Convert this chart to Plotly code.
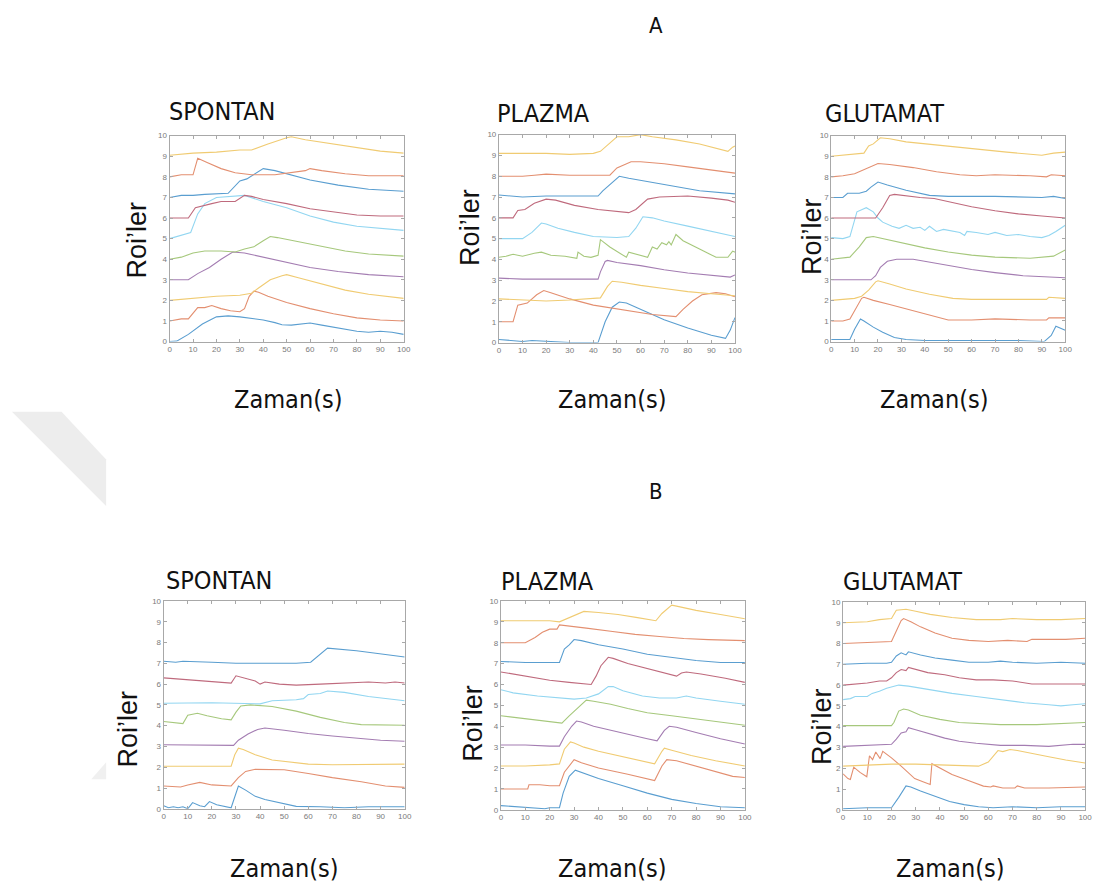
import plotly.graph_objects as go

W, H = 1103, 895

# ---------------- DATA (time in s, ROI trace values) ----------------
# Panel A - SPONTAN
A_SPONTAN_T = [
    [0,3,8,14,20,25,30,35,40,45,48,52,56,60,65,72,80,85,90,95,100],
    [0,5,8,10,12,15,18,22,26,30,32,34,36,38,42,50,60,70,80,90,100],
    [0,10,20,30,35,38,43,48,50,55,65,75,85,100],
    [0,8,12,17,22,27,32,40,50,60,72,85,100],
    [0,5,10,15,22,28,32,36,40,43,46,55,65,75,85,100],
    [0,6,9,12,15,20,25,32,40,50,60,70,80,100],
    [0,8,11,14,18,22,28,32,35,40,50,60,70,80,90,100],
    [0,5,10,15,25,30,33,36,40,45,52,60,72,85,100],
    [0,5,10,12,16,22,28,35,45,52,58,60,65,75,85,100],
    [0,10,20,30,35,42,50,52,58,70,80,90,100],
]
A_SPONTAN_V = [
    [0.0,0.02,0.35,0.85,1.2,1.25,1.2,1.12,1.05,0.92,0.82,0.8,0.85,0.9,0.8,0.65,0.5,0.45,0.5,0.45,0.35],
    [1.0,1.1,1.1,1.4,1.65,1.65,1.75,1.6,1.5,1.45,1.6,2.2,2.45,2.4,2.2,1.9,1.6,1.35,1.15,1.05,1.0],
    [2.0,2.1,2.2,2.25,2.35,2.6,3.0,3.2,3.25,3.1,2.8,2.5,2.3,2.1],
    [3.0,3.0,3.3,3.6,4.0,4.35,4.3,4.1,3.85,3.6,3.4,3.25,3.15],
    [4.0,4.1,4.3,4.4,4.4,4.35,4.5,4.6,4.9,5.1,5.05,4.85,4.6,4.4,4.25,4.15],
    [5.0,5.2,5.3,6.2,6.7,7.0,7.05,7.1,6.8,6.5,6.1,5.8,5.6,5.4],
    [6.0,6.0,6.5,6.6,6.7,6.8,6.8,7.1,7.05,6.9,6.7,6.45,6.3,6.15,6.1,6.1],
    [7.0,7.1,7.1,7.15,7.2,7.8,7.9,8.1,8.4,8.3,8.1,7.85,7.6,7.4,7.3],
    [8.0,8.1,8.1,8.9,8.7,8.4,8.2,8.1,8.1,8.2,8.3,8.4,8.3,8.15,8.05,8.05],
    [9.05,9.15,9.2,9.3,9.3,9.6,9.9,9.95,9.8,9.6,9.4,9.25,9.15],
]

# Panel A - PLAZMA
A_PLAZMA_T = [
    [0,5,10,14,20,30,42,43,45,48,51,54,57,62,70,80,90,96,98,100],
    [0,6,8,12,16,19,22,30,40,55,65,75,78,82,86,92,96,100],
    [0,10,20,30,40,43,46,48,52,60,70,80,90,100],
    [0,10,20,30,42,43,45,46,50,60,70,80,90,98,100],
    [0,3,6,10,15,18,22,28,33,33.5,36,39,42,43,47,51,54,55,58,63,65,67,69,71,72,73,75,78,85,92,97,99,100],
    [0,10,14,18,20,25,32,40,50,55,58,61,65,70,80,90,100],
    [0,6,8,11,15,20,24,32,42,50,55,58,63,68,80,90,97,100],
    [0,5,10,20,30,42,44,46,50,51,55,65,75,85,100],
    [0,10,15,20,30,40,47,50,53,56,60,70,80,90,100],
    [0,10,20,30,40,43,47,50,55,58,60,65,75,85,92,97,99,100],
]
A_PLAZMA_V = [
    [0.15,0.1,0.05,0.1,0.05,0.0,0.0,0.3,1.0,1.7,1.95,1.9,1.75,1.5,1.1,0.7,0.35,0.2,0.6,1.2],
    [1.0,1.0,1.8,1.9,2.3,2.5,2.4,2.1,1.8,1.55,1.35,1.25,1.6,2.0,2.3,2.4,2.35,2.2],
    [2.1,2.05,2.0,2.05,2.1,2.15,2.7,2.95,2.9,2.75,2.6,2.45,2.35,2.25],
    [3.1,3.05,3.05,3.05,3.05,3.4,3.9,3.95,3.85,3.7,3.5,3.35,3.25,3.15,3.25],
    [4.1,4.15,4.25,4.15,4.3,4.35,4.2,4.15,4.05,4.35,4.15,4.1,4.2,4.95,4.6,4.3,4.1,4.35,4.25,4.1,4.6,4.5,4.8,4.7,4.85,4.7,5.2,4.9,4.5,4.1,4.1,4.4,4.35],
    [5.0,5.0,5.3,5.75,5.7,5.5,5.3,5.1,5.05,5.1,5.5,6.05,6.0,5.85,5.6,5.35,5.1],
    [6.0,6.0,6.35,6.4,6.7,6.9,6.85,6.6,6.4,6.3,6.25,6.4,6.9,7.0,7.05,6.95,6.85,6.75],
    [7.1,7.05,7.0,7.05,7.05,7.05,7.3,7.5,7.9,8.0,7.9,7.7,7.5,7.3,7.15],
    [8.0,8.0,8.05,8.1,8.05,8.05,8.05,8.4,8.55,8.7,8.7,8.6,8.45,8.3,8.15],
    [9.1,9.1,9.1,9.05,9.1,9.2,9.6,9.9,9.9,9.95,10.0,9.9,9.75,9.55,9.35,9.2,9.4,9.45],
]

# Panel A - GLUTAMAT
A_GLUTAMAT_T = [
    [0,5,8,10,12.5,14,18,22,27,32,40,60,80,91,94,96,98,100],
    [0,5,8,10,13,14,18,25,35,45,50,60,70,85,92,93,100],
    [0,5,10,13,16,19,20,25,32,42,52,60,80,92,93,100],
    [0,10,17,19,21,24,28,35,40,50,60,70,82,100],
    [0,5,8,12,15,18,22,30,40,50,60,70,85,95,100],
    [0,5,8,9,11,15,18,20,22,26,29,32,35,38,40,42,45,48,51,55,57,58,62,67,70,75,80,85,90,93,96,100],
    [0,10,19,22,25,27,33,38,44,50,60,70,80,90,100],
    [0,5,7,12,15,17,20,24,32,42,50,70,90,95,100],
    [0,5,10,15,20,25,35,45,55,62,70,85,92,94,100],
    [0,8,14,16,18,21,25,32,45,60,75,90,95,100],
]
A_GLUTAMAT_V = [
    [0.1,0.1,0.1,0.6,1.1,1.0,0.7,0.45,0.2,0.1,0.05,0.05,0.05,0.0,0.3,0.75,0.65,0.55],
    [1.0,1.0,1.1,1.5,2.1,2.15,2.0,1.8,1.5,1.2,1.05,1.05,1.1,1.05,1.05,1.15,1.15],
    [2.0,2.05,2.1,2.2,2.5,2.9,2.95,2.8,2.55,2.3,2.1,2.05,2.05,2.05,2.15,2.1],
    [3.0,3.0,3.0,3.2,3.6,3.9,4.0,4.0,3.9,3.7,3.5,3.35,3.2,3.1],
    [4.0,4.05,4.1,4.6,5.05,5.1,5.0,4.8,4.55,4.35,4.2,4.1,4.05,4.15,4.45],
    [5.05,5.0,5.1,5.5,6.3,6.5,6.3,6.0,5.8,5.6,5.5,5.65,5.5,5.55,5.4,5.6,5.35,5.45,5.4,5.3,5.15,5.35,5.3,5.2,5.3,5.15,5.2,5.1,5.05,5.15,5.35,5.65],
    [6.0,6.0,6.0,6.5,7.1,7.15,7.05,7.0,6.95,6.8,6.55,6.35,6.2,6.1,6.0],
    [7.0,7.0,7.2,7.2,7.3,7.5,7.75,7.6,7.35,7.1,7.05,7.05,7.0,7.05,6.95],
    [8.0,8.05,8.15,8.4,8.65,8.6,8.45,8.25,8.1,8.05,8.1,8.05,8.0,8.1,8.05],
    [9.0,9.1,9.15,9.5,9.6,9.9,9.85,9.7,9.55,9.35,9.2,9.05,9.15,9.2],
]

# Panel B - SPONTAN (8 ROIs)
B_SPONTAN_T = [
    [0,2,4,6,8,10,12,15,17,19,22,28,29,31,34,38,42,46,50,55,65,75,85,100],
    [0,7,10,15,20,28,31,34,38,45,50,60,70,82,92,100],
    [0,10,20,28,29.5,31,33,38,45,55,60,70,80,90,100],
    [0,10,20,29,31,35,39,42,50,60,70,80,90,100],
    [0,5,8,10,14,18,24,28,30,32,36,45,55,65,75,82,90,100],
    [0,20,40,45,55,58,60,65,68,75,85,95,100],
    [0,10,20,28,30,33,38,40,42,48,55,65,75,85,92,96,100],
    [0,5,8,15,20,30,40,50,55,61,62.5,66,68,80,90,100],
]
B_SPONTAN_V = [
    [0.15,0.05,0.1,0.05,0.1,0.0,0.3,0.15,0.1,0.35,0.2,0.05,0.4,1.1,0.9,0.6,0.45,0.35,0.24,0.12,0.1,0.05,0.1,0.1],
    [1.1,1.05,1.15,1.27,1.15,1.1,1.5,1.8,1.9,1.88,1.88,1.7,1.5,1.3,1.1,1.03],
    [2.05,2.05,2.05,2.05,2.6,2.92,2.85,2.6,2.35,2.22,2.15,2.12,2.12,2.15,2.15],
    [3.08,3.08,3.05,3.05,3.3,3.6,3.82,3.89,3.78,3.62,3.5,3.4,3.3,3.25],
    [4.2,4.15,4.1,4.5,4.6,4.48,4.33,4.28,4.65,4.95,5.0,4.92,4.7,4.4,4.15,4.05,4.05,4.02],
    [5.08,5.1,5.05,5.2,5.25,5.3,5.5,5.55,5.67,5.6,5.4,5.25,5.2],
    [6.3,6.2,6.1,6.05,6.4,6.3,6.15,6.0,6.1,6.0,5.95,6.0,6.05,6.1,6.05,6.1,6.05],
    [7.1,7.05,7.1,7.05,7.05,7.0,7.0,7.0,7.0,7.05,7.2,7.55,7.73,7.6,7.45,7.3],
]

# Panel B - PLAZMA
B_PLAZMA_T = [
    [0,10,18,20,24,25.5,28,30.5,33,40,50,60,70,80,90,100],
    [0,11,11.5,16,20,24,26,28.5,30,33,40,52,62,63,66,68,72,80,88,95,100],
    [0,10,20,24,26,28.5,30,34,40,50,60,63,66,67,70,78,88,100],
    [0,10,20,24,26,29,31,33,38,45,52,60,64,67,69,72,80,90,100],
    [0,10,18,25,28,32,35,38,45,52,60,70,80,90,100],
    [0,5,15,25,30,35,40,44,46,50,58,65,72,76,80,90,100],
    [0,5,12,20,28,32,37,39,41,44,46,52,60,68,72,74,76,82,92,100],
    [0,10,20,24,26,28,30,33,40,50,60,70,80,90,100],
    [0,10,14,17,20,23,24,28,35,45,55,65,75,85,100],
    [0,10,20,24,27,31,34,40,48,56,62,63.5,66,70,72,80,90,100],
]
B_PLAZMA_V = [
    [0.2,0.1,0.05,0.1,0.1,0.8,1.6,1.9,1.8,1.5,1.15,0.8,0.5,0.3,0.15,0.1],
    [1.0,1.0,1.2,1.2,1.15,1.15,1.8,2.2,2.4,2.25,2.0,1.7,1.45,1.4,2.1,2.4,2.35,2.1,1.85,1.6,1.55],
    [2.1,2.1,2.15,2.2,2.9,3.25,3.2,3.0,2.8,2.55,2.3,2.2,2.8,2.95,2.85,2.6,2.35,2.1],
    [3.1,3.1,3.05,3.05,3.5,4.0,4.25,4.2,4.0,3.8,3.6,3.4,3.3,3.8,4.0,3.95,3.7,3.4,3.15],
    [4.5,4.35,4.25,4.15,4.5,4.95,5.25,5.2,5.05,4.85,4.65,4.5,4.35,4.2,4.05],
    [5.75,5.6,5.45,5.35,5.3,5.35,5.55,5.9,5.9,5.7,5.45,5.35,5.35,5.45,5.35,5.2,5.05],
    [6.6,6.5,6.35,6.2,6.1,6.05,6.0,6.4,6.9,7.3,7.25,7.0,6.75,6.5,6.4,6.55,6.6,6.5,6.3,6.1],
    [7.1,7.05,7.05,7.05,7.7,7.9,8.15,8.1,7.9,7.7,7.45,7.3,7.15,7.05,7.05],
    [8.0,8.0,8.25,8.5,8.65,8.65,8.85,8.8,8.7,8.55,8.4,8.3,8.2,8.15,8.1],
    [9.05,9.05,9.05,9.0,9.15,9.35,9.5,9.45,9.35,9.2,9.1,9.05,9.4,9.8,9.75,9.55,9.35,9.15],
]

# Panel B - GLUTAMAT
B_GLUTAMAT_T = [
    [0,10,18,20,23,26,28,32,38,44,50,56,62,70,80,90,100],
    [0,2,3,4.4,7,9.8,10.9,12.2,13.5,15.3,16.4,20,24,29.6,33,36,36.7,40,45,52,58,61,62,66,71,72,75,85,95,100],
    [0,10,20,30,40,50,56,60,62,64,66,69,72,78,85,92,100],
    [0,10,15,20,22,24,26,27,30,36,42,48,55,65,75,85,95,100],
    [0,10,20,21,23,25,27,32,40,48,55,65,80,90,100],
    [0,3,5,10,12,15,18,21,23,27,35,45,55,65,75,85,90,95,100],
    [0,5,10,15,18,20,22,24,26,27,30,35,42,48,55,62,70,78,90,100],
    [0,10,18,20,22,24,26,27,32,38,45,52,60,65,70,80,90,100],
    [0,10,16,20,22,24,25,28,32,38,45,52,60,68,76,78,85,92,100],
    [0,10,15,20,22,26,30,36,45,55,65,70,80,90,100],
]
B_GLUTAMAT_V = [
    [0.05,0.1,0.1,0.1,0.6,1.15,1.1,0.9,0.65,0.4,0.25,0.15,0.1,0.15,0.1,0.15,0.15],
    [1.73,1.5,1.46,2.05,1.8,1.59,2.6,2.41,2.78,2.46,2.81,2.5,2.1,1.5,1.35,1.22,2.22,2.0,1.7,1.4,1.14,1.1,1.15,1.05,1.05,1.15,1.05,1.05,1.1,1.1],
    [2.1,2.15,2.2,2.2,2.15,2.1,2.1,2.3,2.6,2.85,2.8,2.9,2.85,2.7,2.55,2.4,2.25],
    [3.05,3.1,3.15,3.15,3.4,3.7,3.75,3.95,3.85,3.65,3.45,3.3,3.2,3.1,3.1,3.05,3.15,3.15],
    [4.05,4.05,4.05,4.2,4.75,4.85,4.8,4.55,4.35,4.2,4.15,4.1,4.1,4.15,4.2],
    [5.3,5.35,5.45,5.45,5.6,5.7,5.85,5.95,6.0,5.95,5.8,5.6,5.45,5.3,5.15,5.05,5.0,5.05,5.1],
    [6.0,6.05,6.1,6.2,6.2,6.35,6.6,6.75,6.7,6.85,6.75,6.6,6.5,6.35,6.25,6.25,6.2,6.05,6.05,6.05],
    [7.0,7.05,7.05,7.1,7.4,7.55,7.45,7.6,7.45,7.3,7.2,7.1,7.1,7.15,7.1,7.05,7.1,7.05],
    [8.0,8.05,8.05,8.1,8.6,9.1,9.2,9.05,8.8,8.5,8.25,8.15,8.1,8.15,8.1,8.2,8.2,8.2,8.25],
    [9.0,9.05,9.15,9.2,9.6,9.65,9.55,9.4,9.25,9.15,9.15,9.2,9.15,9.15,9.2],
]

PANEL_TITLES = ["SPONTAN", "PLAZMA", "GLUTAMAT", "SPONTAN", "PLAZMA", "GLUTAMAT"]
GROUP_LABELS = ["A", "B"]
X_TICKS = [0, 10, 20, 30, 40, 50, 60, 70, 80, 90, 100]
Y_TICKS = [0, 1, 2, 3, 4, 5, 6, 7, 8, 9, 10]
X_LABEL = "Zaman(s)"
Y_LABEL = "Roi\u2019ler"

# MATLAB default line order, faded as in the picture
ROI_COLORS = ["#5a9ed0", "#e38f70", "#f0cb72", "#a47db2", "#a6c87c",
              "#92d6f1", "#bf6a7d", "#5a9ed0", "#e38f70", "#f0cb72"]

# ---------------- LAYOUT (pixel boxes of each plot area) ----------------
BOXES = [  # x0, x1, ytop, ybottom in pixels
    (169, 405, 133, 341), (501, 739, 132, 342), (836, 1072, 133, 341),
    (163, 406, 603, 813), (503, 749, 603, 814), (848, 1092, 604, 814),
]
TITLE_POS = [(166, 109), (497, 111), (828, 111), (163, 582), (501, 583), (846, 583)]
YLAB_POS = [(136, 238), (472, 226), (816, 235), (127, 732), (475, 727), (826, 730)]
XLAB_POS = [(288, 400), (615, 400), (940, 400), (284, 873), (615, 873), (956, 873)]
GROUP_POS = [(659, 22), (659, 492)]

PANELS = [
    (A_SPONTAN_T, A_SPONTAN_V), (A_PLAZMA_T, A_PLAZMA_V), (A_GLUTAMAT_T, A_GLUTAMAT_V),
    (B_SPONTAN_T, B_SPONTAN_V), (B_PLAZMA_T, B_PLAZMA_V), (B_GLUTAMAT_T, B_GLUTAMAT_V),
]

def px(x):
    return x / W

def py(y):
    return 1 - y / H

fig = go.Figure()
layout = {}
NARROW = "Liberation Sans Narrow, DejaVu Sans Condensed, Open Sans, sans-serif"
AX_COL = "#a8a8a8"

for i, ((T, V), box) in enumerate(zip(PANELS, BOXES)):
    n = i + 1
    xa = "x" if n == 1 else f"x{n}"
    ya = "y" if n == 1 else f"y{n}"
    for k, (t, v) in enumerate(zip(T, V)):
        fig.add_trace(go.Scatter(x=t, y=v, mode="lines", xaxis=xa, yaxis=ya,
                                 line=dict(color=ROI_COLORS[k], width=1.1),
                                 showlegend=False, hoverinfo="skip"))
    x0, x1, yt, yb = box
    common = dict(showline=True, linecolor=AX_COL, linewidth=1, mirror="ticks",
                  ticks="inside", ticklen=3, tickcolor=AX_COL, tickwidth=1,
                  showgrid=False, zeroline=False,
                  tickfont=dict(family="Liberation Sans, Arial", size=8, color="#7a7a7a"))
    layout["xaxis" if n == 1 else f"xaxis{n}"] = dict(
        domain=[px(x0), px(x1)], anchor=ya, range=[0, 100],
        tickvals=X_TICKS, ticktext=[str(t) for t in X_TICKS], **common)
    layout["yaxis" if n == 1 else f"yaxis{n}"] = dict(
        domain=[py(yb), py(yt)], anchor=xa, range=[0, 10],
        tickvals=Y_TICKS, ticktext=[str(t) for t in Y_TICKS], **common)

ann = []
for (x, y), txt in zip(TITLE_POS, PANEL_TITLES):
    ann.append(dict(x=px(x), y=py(y), xref="paper", yref="paper", text=txt,
                    showarrow=False, xanchor="left", yanchor="middle",
                    font=dict(family=NARROW, size=25, color="#111111")))
for (x, y) in YLAB_POS:
    ann.append(dict(x=px(x), y=py(y), xref="paper", yref="paper", text=Y_LABEL,
                    showarrow=False, xanchor="center", yanchor="middle", textangle=-90,
                    font=dict(family="Liberation Sans, Arial", size=27, color="#111111")))
for (x, y) in XLAB_POS:
    ann.append(dict(x=px(x), y=py(y), xref="paper", yref="paper", text=X_LABEL,
                    showarrow=False, xanchor="center", yanchor="middle",
                    font=dict(family=NARROW, size=25, color="#111111")))
for (x, y), txt in zip(GROUP_POS, GROUP_LABELS):
    ann.append(dict(x=px(x), y=py(y), xref="paper", yref="paper", text=txt,
                    showarrow=False, xanchor="center", yanchor="middle",
                    font=dict(family=NARROW, size=22, color="#111111")))

def path(points):
    return "M " + " L ".join(f"{px(a):.4f},{py(b):.4f}" for a, b in points) + " Z"

shapes = [
    dict(type="path", xref="paper", yref="paper",
         path=path([(10, 412), (60, 412), (105, 460), (105, 507)]),
         fillcolor="#ededed", line=dict(width=0), layer="below"),
    dict(type="path", xref="paper", yref="paper",
         path=path([(90, 783), (105, 766), (105, 783)]),
         fillcolor="#f0f0f0", line=dict(width=0), layer="below"),
]

fig.update_layout(width=W, height=H, margin=dict(l=0, r=0, t=0, b=0),
                  paper_bgcolor="white", plot_bgcolor="white",
                  annotations=ann, shapes=shapes, **layout)
fig.write_html("out.html")
